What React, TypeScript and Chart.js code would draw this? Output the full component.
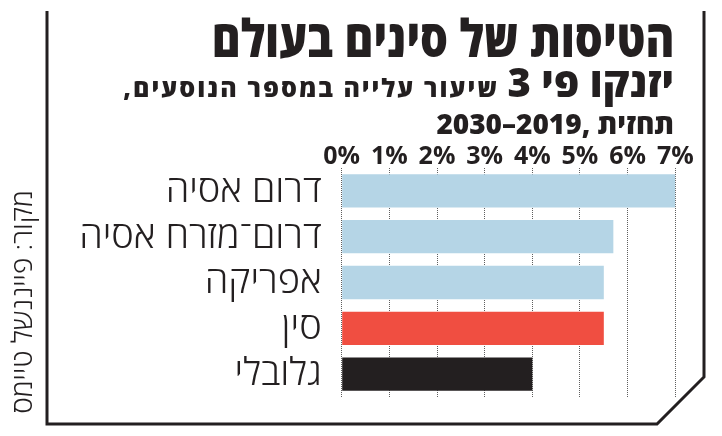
import React, { useEffect, useRef } from "react";
import { Chart, registerables } from "chart.js";

Chart.register(...registerables);

const categories = ["דרום אסיה", "דרום־מזרח אסיה", "אפריקה", "סין", "גלובלי"];
const growthRates = [7.0, 5.7, 5.5, 5.5, 4.0];
const barColors = ["#b5d5e6", "#b5d5e6", "#b5d5e6", "#f04e41", "#231f20"];
const tickLabels = ["0%", "1%", "2%", "3%", "4%", "5%", "6%", "7%"];

const titleLine1 = "הטיסות של סינים בעולם";
const titleLine2Big = "יזנקו פי 3";
const titleLine2Small = "שיעור עלייה במספר הנוסעים,";
const titleLine3Word = "תחזית";
const titleLine3Years = "2030–2019,";
const sourceText = "מקור: פייננשל טיימס";

const INK = "#231f20";
const HEB = '"Open Sans", "DejaVu Sans", sans-serif';

export default function App() {
  const ref = useRef<HTMLCanvasElement | null>(null);

  useEffect(() => {
    document.body.style.margin = "0";
    const canvas = ref.current;
    if (!canvas) return;
    const chart = new Chart(canvas, {
      type: "bar",
      data: {
        labels: categories,
        datasets: [
          {
            data: growthRates,
            backgroundColor: barColors,
            borderWidth: 0,
            barPercentage: 0.727,
            categoryPercentage: 1,
          },
        ],
      },
      options: {
        indexAxis: "y",
        responsive: false,
        animation: false,
        devicePixelRatio: 1,
        layout: { padding: { left: 40, right: 46.7, top: 140, bottom: 23 } },
        plugins: { legend: { display: false }, tooltip: { enabled: false } },
        scales: {
          x: {
            position: "top",
            min: 0,
            max: 7,
            z: 1,
            afterFit: (s: any) => {
              s.height = 28;
            },
            ticks: {
              stepSize: 1,
              autoSkip: false,
              maxRotation: 0,
              padding: -1,
              color: INK,
              font: { family: '"Open Sans", sans-serif', size: 25, weight: "bold", lineHeight: 1 },
              callback: (_v: any, i: number) => tickLabels[i],
            },
            grid: {
              color: "#5e5e5e",
              lineWidth: 1,
              drawTicks: false,
              tickLength: 0,
            },
            border: { display: false, dash: [1, 1] },
          },
          y: {
            afterFit: (s: any) => {
              s.width = 301.7;
            },
            ticks: {
              padding: 20,
              color: INK,
              font: { family: HEB, size: 38, weight: 300, lineHeight: 1 },
            },
            grid: { display: false, drawTicks: false, tickLength: 0 },
            border: { display: false },
          },
        },
      },
    } as any);
    (chart.options.scales as any).x.grid.borderDash = [1, 1];
    chart.update();
    return () => chart.destroy();
  }, []);

  const lineBase: React.CSSProperties = {
    position: "absolute",
    right: 48,
    whiteSpace: "nowrap",
    color: INK,
    fontFamily: HEB,
    fontWeight: 800,
    lineHeight: 1,
    textAlign: "right",
    transformOrigin: "right center",
  };

  return (
    <div style={{ position: "fixed", left: 0, top: 0, width: 722, height: 436, background: "#fff", overflow: "hidden" }}>
      <canvas ref={ref} width={722} height={436} style={{ position: "absolute", left: 0, top: 0 }} />
      <svg width={722} height={436} style={{ position: "absolute", left: 0, top: 0 }}>
        <polyline points="47,11 47,424 657,424 704,377 704,11" fill="none" stroke={INK} strokeWidth={3} />
      </svg>
      <div dir="rtl" style={{ ...lineBase, top: 11, fontSize: 52, transform: "scaleX(0.845)" }}>
        {titleLine1}
      </div>
      <div dir="rtl" style={{ ...lineBase, top: 62, fontSize: 40 }}>
        <span>{titleLine2Big}</span>
        <span style={{ fontSize: 25, letterSpacing: 2 }}> {titleLine2Small}</span>
      </div>
      <div dir="rtl" style={{ ...lineBase, top: 109, fontSize: 28 }}>
        <span>{titleLine3Word}</span> <bdi dir="ltr">{titleLine3Years}</bdi>
      </div>
      <div
        dir="rtl"
        style={{
          position: "absolute",
          left: 21,
          top: 302,
          transform: "translate(-50%, -50%) rotate(-90deg)",
          whiteSpace: "nowrap",
          color: INK,
          fontFamily: HEB,
          fontSize: 28,
          lineHeight: 1,
          fontWeight: 300,
        }}
      >
        {sourceText}
      </div>
    </div>
  );
}
